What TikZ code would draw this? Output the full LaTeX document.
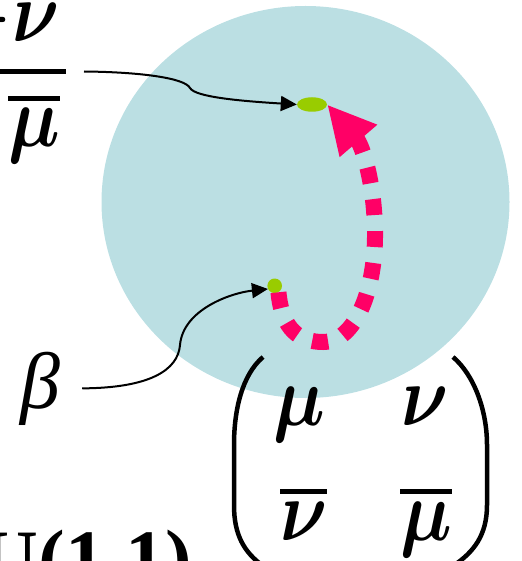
\RequirePackage{fix-cm}
\documentclass[tikz,border=0pt]{standalone}
\usepackage{fontspec}
\usepackage{graphicx}
\setmainfont{Liberation Serif}
\usetikzlibrary{arrows.meta,shapes.geometric}
\definecolor{disk}{HTML}{BBDFE3}
\definecolor{dotgreen}{HTML}{99CC00}
\definecolor{hotpink}{HTML}{FF0066}
\newcommand\nar[1]{\scalebox{0.85}[1]{#1}}
\newcommand\obar[1]{\vbox{\hrule height 4.5pt\kern 8pt\hbox{\nar{#1}}}}
\begin{document}
\begin{tikzpicture}[x=1pt,y=-1pt,
  big/.style={inner sep=0pt, anchor=base west, font=\fontsize{86}{86}\selectfont\boldmath},
  blk/.style={line width=2pt, -{Triangle[length=16pt,width=15pt]}},
  pinkarrow/.style={hotpink, line width=16pt, dash pattern=on 16pt off 16pt, -{Triangle[length=48pt,width=46pt]}},
  paren/.style={line width=4.5pt}]
\useasboundingbox (0,0) rectangle (521,561);
\clip (0,0) rectangle (521,561);
\fill[disk] (305.5,202) ellipse [x radius=204, y radius=196];
% dots
\node (end) [ellipse, fill=dotgreen, minimum width=30pt, minimum height=14.5pt, inner sep=0pt] at (312,104.5) {};
\node (start) [circle, fill=dotgreen, minimum size=14.6pt, inner sep=0pt] at (274.7,285.8) {};
% fraction
\node (num) [big, anchor=base east] at (60,42) {\nar{$-\nu$}};
\node (frac) [fill=black, minimum width=76pt, minimum height=4.5pt, inner sep=0pt, anchor=east] at (66,71.5) {};
\node (den) [big] at (8,147) {\obar{$\mu$}};
% beta
\node (beta) [big, font=\fontsize{80}{80}\selectfont\itshape] at (20,408) {β};
% matrix
\node (m11) [big] at (273,425) {\nar{$\mu$}};
\node (m12) [big] at (401,425) {\nar{$\nu$}};
\node (m21) [big] at (280,540) {\obar{$\nu$}};
\node (m22) [big] at (400,540) {\obar{$\mu$}};
\draw[paren] (263,357) .. controls (242,375) and (234,410) .. (234,445) -- (234,505) .. controls (234,535) and (244,552) .. (263,566);
\draw[paren] (453,357) .. controls (474,375) and (487,410) .. (487,445) -- (487,505) .. controls (487,535) and (474,552) .. (453,566);
% group label
\node (grp) [inner sep=0pt, anchor=base east, font=\fontsize{80}{80}\selectfont\bfseries] at (192,585) {U(1,1)};
% connectors
\draw[blk] ([xshift=18pt]frac.east) .. controls (140,72) and (185,78) .. (190,88) .. controls (195,97) and (240,101) .. (end.west);
\draw[blk] ([xshift=22pt]beta.east) .. controls (150,388) and (178,370) .. (180,345) .. controls (183,310) and (230,293) .. (start.205);
\draw[pinkarrow] (start.-60) .. controls (282,330) and (300,342) .. (323,342) .. controls (355,342) and (376,290) .. (375,230) .. controls (374,180) and (362,145) .. (end.east);
\end{tikzpicture}
\end{document}
